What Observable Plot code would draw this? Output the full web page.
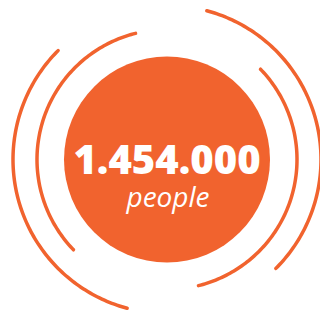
<!DOCTYPE html>
<html>
<head>
<meta charset="utf-8">
<script src="https://cdn.jsdelivr.net/npm/d3@7"></script>
<script src="https://cdn.jsdelivr.net/npm/@observablehq/plot@0.6"></script>
<style>
  html, body { margin: 0; padding: 0; background: #fff; }
  #chart svg { display: block; }
</style>
</head>
<body>
<div id="chart"></div>
<script>
// Headline value and label
const value = 1454000;
const label = "people";

// Decorative arcs: radius (px) and compass angles (degrees, clockwise from top)
const arcRadius = [130, 154, 130, 154];
const arcStart  = [46, 15, 226, 195];
const arcEnd    = [166, 135, 346, 315];

const orange = "#f1632e";
const circleRadius = 103;

const arcPoints = [];
arcRadius.forEach((r, i) => {
  for (let a = arcStart[i]; a <= arcEnd[i] + 1e-9; a += 1) {
    const t = a * Math.PI / 180;
    arcPoints.push({arc: i, x: r * Math.sin(t), y: -r * Math.cos(t)});
  }
});

const fmt = d3.formatLocale({decimal: ",", thousands: ".", grouping: [3], currency: ["", ""]}).format(",d");

const chart = Plot.plot({
  width: 320,
  height: 311,
  margin: 0,
  x: {domain: [-166.5, 153.5], range: [0, 320], axis: null},
  y: {domain: [-159, 152], range: [0, 311], axis: null},
  marks: [
    Plot.line(arcPoints, {x: "x", y: "y", z: "arc", stroke: orange, strokeWidth: 3.5, strokeLinecap: "round"}),
    Plot.dot([{x: 0, y: 0}], {x: "x", y: "y", r: circleRadius, fill: orange, stroke: null}),
    Plot.text([fmt(value)], {x: () => 0, y: () => 2, text: d => d, fill: "white", fontSize: 40, fontWeight: 800, fontFamily: "Open Sans"}),
    Plot.text([label], {x: () => 1, y: () => 39, text: d => d, fill: "white", fontSize: 28, fontStyle: "italic", fontFamily: "Open Sans", letterSpacing: 0.6})
  ]
});
document.getElementById("chart").appendChild(chart);
</script>
</body>
</html>
